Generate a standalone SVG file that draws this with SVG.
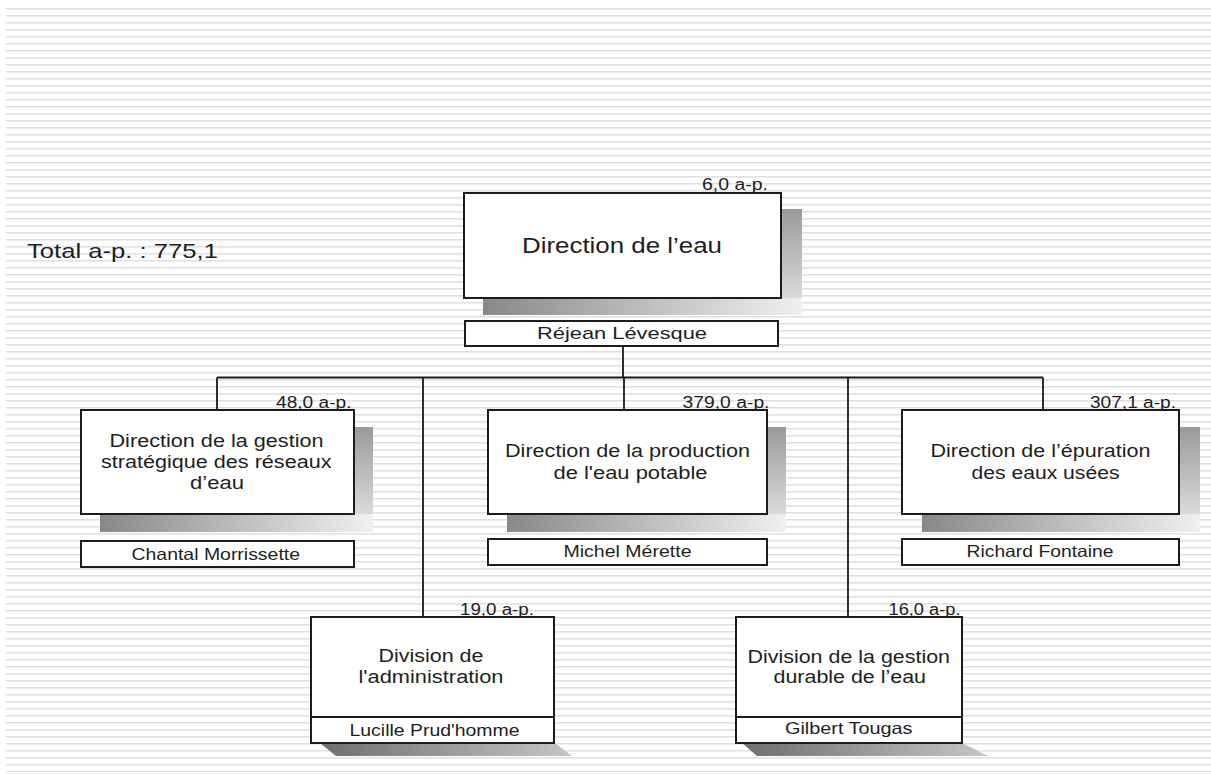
<svg xmlns="http://www.w3.org/2000/svg" width="1211" height="774" viewBox="0 0 1211 774">
  <style>
    .box { fill: #ffffff; stroke: #1c1c1c; stroke-width: 2; }
    .wire { fill: none; stroke: #1a1a1a; stroke-width: 1.8; }
    .shb { fill: url(#shadeBottom); }
    .shr { fill: url(#shadeRight); }
    .shp { fill: url(#shadeFloor); }
    text { font-family: "Liberation Sans", Arial, Helvetica, sans-serif; fill: #1e1e1e; }
    .big { font-size: 21.5px; }
    .ttl { font-size: 17.5px; }
    .nm { font-size: 16.5px; }
    .ap { font-size: 16px; }
  </style>
  <defs>
    <pattern id="stripes" x="0" y="8" width="20" height="7" patternUnits="userSpaceOnUse">
      <rect x="0" y="0" width="20" height="1" fill="#e0e0e0"/>
      <rect x="0" y="1" width="20" height="1.2" fill="#eeeeee"/>
    </pattern>
    <linearGradient id="shadeBottom" x1="0" y1="0" x2="1" y2="0">
      <stop offset="0" stop-color="#888888"/>
      <stop offset="0.55" stop-color="#c2c2c2"/>
      <stop offset="1" stop-color="#f0f0f0"/>
    </linearGradient>
    <linearGradient id="shadeRight" x1="0" y1="0" x2="0" y2="1">
      <stop offset="0" stop-color="#9a9a9a"/>
      <stop offset="1" stop-color="#dadada"/>
    </linearGradient>
    <linearGradient id="shadeFloor" x1="0" y1="0" x2="1" y2="0">
      <stop offset="0" stop-color="#6e6e6e"/>
      <stop offset="1" stop-color="#c6c6c6"/>
    </linearGradient>
  </defs>

  <!-- striped backdrop -->
  <rect width="1211" height="774" fill="#ffffff"/>
  <rect x="6" y="8" width="1205" height="764" fill="url(#stripes)"/>

  <text x="27" y="257.5" font-size="21" textLength="191" lengthAdjust="spacingAndGlyphs">Total a-p. : 775,1</text>

  <!-- reporting lines -->
  <g id="connectors">
    <path class="wire" d="M623,346 V377.5 M217,377.5 H1043 M217,377.5 V410 M624,377.5 V410 M1043,377.5 V410 M423,377.5 V617 M848,377.5 V617"/>
  </g>

  <!-- head of the service -->
  <g id="node-direction-eau">
    <rect class="shr" x="781" y="209" width="21" height="89"/>
    <rect class="shb" x="483" y="298" width="319" height="17"/>
    <rect class="box" x="464" y="193" width="317" height="105"/>
    <text class="ap" x="702" y="189.5" textLength="66" lengthAdjust="spacingAndGlyphs">6,0 a-p.</text>
    <text class="big" x="522" y="253" textLength="200" lengthAdjust="spacingAndGlyphs">Direction de l’eau</text>
    <rect class="box" x="465" y="321" width="313" height="25"/>
    <text x="537" y="339" font-size="17" textLength="170" lengthAdjust="spacingAndGlyphs">Réjean Lévesque</text>
  </g>

  <g id="node-reseaux">
    <rect class="shr" x="354" y="427" width="19" height="87"/>
    <rect class="shb" x="100" y="514" width="273" height="18"/>
    <rect class="box" x="81" y="410" width="273" height="104"/>
    <text class="ap" x="276" y="407.5" textLength="75.5" lengthAdjust="spacingAndGlyphs">48,0 a-p.</text>
    <text class="ttl" x="109.5" y="446.5" textLength="214" lengthAdjust="spacingAndGlyphs">Direction de la gestion</text>
    <text class="ttl" x="101" y="467.5" textLength="230.5" lengthAdjust="spacingAndGlyphs">stratégique des réseaux</text>
    <text class="ttl" x="190" y="489" textLength="54" lengthAdjust="spacingAndGlyphs">d’eau</text>
    <rect class="box" x="81" y="541" width="273" height="26"/>
    <text class="nm" x="131.5" y="559.5" textLength="168.5" lengthAdjust="spacingAndGlyphs">Chantal Morrissette</text>
  </g>

  <g id="node-production">
    <rect class="shr" x="767" y="427" width="19" height="87"/>
    <rect class="shb" x="507" y="514" width="279" height="18"/>
    <rect class="box" x="488" y="410" width="279" height="104"/>
    <text class="ap" x="682.5" y="408.3" textLength="87" lengthAdjust="spacingAndGlyphs">379,0 a-p.</text>
    <text class="ttl" x="505" y="457" textLength="245" lengthAdjust="spacingAndGlyphs">Direction de la production</text>
    <text class="ttl" x="553.5" y="478.5" textLength="154" lengthAdjust="spacingAndGlyphs">de l'eau potable</text>
    <rect class="box" x="488" y="539" width="279" height="26"/>
    <text class="nm" x="563.5" y="556.5" textLength="128" lengthAdjust="spacingAndGlyphs">Michel Mérette</text>
  </g>

  <g id="node-epuration">
    <rect class="shr" x="1179" y="427" width="21" height="87"/>
    <rect class="shb" x="922" y="514" width="278" height="18"/>
    <rect class="box" x="902" y="410" width="277" height="104"/>
    <text class="ap" x="1090" y="408.3" textLength="86" lengthAdjust="spacingAndGlyphs">307,1 a-p.</text>
    <text class="ttl" x="930.5" y="457" textLength="220" lengthAdjust="spacingAndGlyphs">Direction de l’épuration</text>
    <text class="ttl" x="971.5" y="478.5" textLength="148" lengthAdjust="spacingAndGlyphs">des eaux usées</text>
    <rect class="box" x="902" y="539" width="277" height="26"/>
    <text class="nm" x="966.5" y="556.5" textLength="147" lengthAdjust="spacingAndGlyphs">Richard Fontaine</text>
  </g>

  <g id="node-administration">
    <polygon class="shp" points="320,743 555,743 572,756 336,756"/>
    <rect class="box" x="311" y="617" width="243" height="126"/>
    <line class="wire" x1="311" y1="717" x2="554" y2="717"/>
    <text class="ap" x="460" y="615" textLength="74" lengthAdjust="spacingAndGlyphs">19,0 a-p.</text>
    <text class="ttl" x="378.5" y="661.5" textLength="105" lengthAdjust="spacingAndGlyphs">Division de</text>
    <text class="ttl" x="358.5" y="683" textLength="145" lengthAdjust="spacingAndGlyphs">l'administration</text>
    <text class="nm" x="349.5" y="735.5" textLength="170" lengthAdjust="spacingAndGlyphs">Lucille Prud'homme</text>
  </g>

  <g id="node-gestion-durable">
    <polygon class="shp" points="742,743 962,743 988,756 757,756"/>
    <rect class="box" x="736" y="617" width="226" height="126"/>
    <line class="wire" x1="736" y1="717" x2="962" y2="717"/>
    <text class="ap" x="888.5" y="615" textLength="72" lengthAdjust="spacingAndGlyphs">16,0 a-p.</text>
    <text class="ttl" x="747.5" y="662.5" textLength="202.5" lengthAdjust="spacingAndGlyphs">Division de la gestion</text>
    <text class="ttl" x="773.5" y="683.3" textLength="152.5" lengthAdjust="spacingAndGlyphs">durable de l’eau</text>
    <text class="nm" x="785" y="733.5" textLength="127.5" lengthAdjust="spacingAndGlyphs">Gilbert Tougas</text>
  </g>
</svg>
